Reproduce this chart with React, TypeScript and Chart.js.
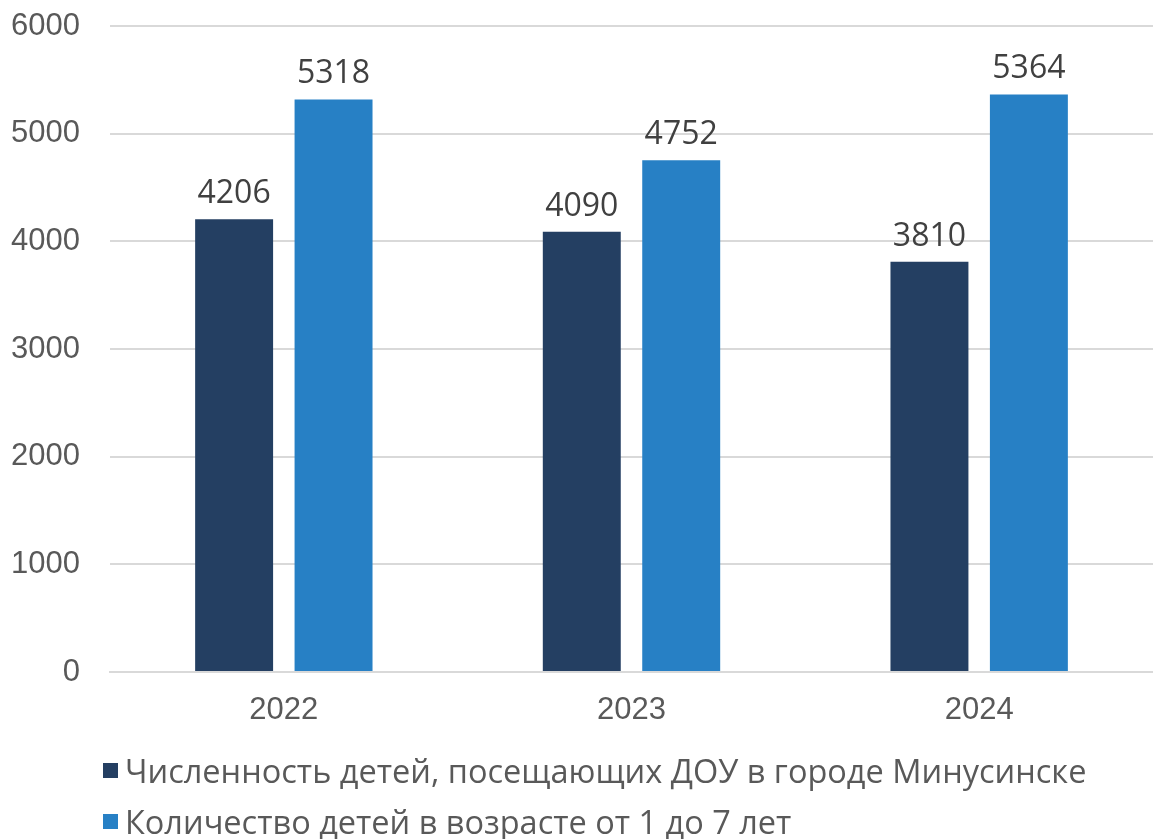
import React, { useEffect, useRef } from "react";
import { Chart, registerables } from "chart.js";

Chart.register(...registerables);

const categories = ["2022", "2023", "2024"];
const seriesNames = [
  "Численность детей, посещающих ДОУ в городе Минусинске",
  "Количество детей в возрасте от 1 до 7 лет",
];
const attending = [4206, 4090, 3810];
const childrenAged1to7 = [5318, 4752, 5364];
const yTicks = [0, 1000, 2000, 3000, 4000, 5000, 6000];
const colors = ["#243F62", "#2780C5"];

const labelFont = "'Open Sans', 'Noto Sans', sans-serif";

const dataLabels = {
  id: "dataLabels",
  afterDatasetsDraw(chart: any) {
    const ctx = chart.ctx;
    ctx.save();
    ctx.font = `32px ${labelFont}`;
    ctx.fillStyle = "#404040";
    ctx.textAlign = "center";
    ctx.textBaseline = "alphabetic";
    chart.data.datasets.forEach((ds: any, i: number) => {
      const meta = chart.getDatasetMeta(i);
      meta.data.forEach((el: any, j: number) => {
        ctx.fillText(String(ds.data[j]), el.x, el.y - 16);
      });
    });
    ctx.restore();
  },
};

export default function App() {
  const ref = useRef<HTMLCanvasElement>(null);
  useEffect(() => {
    document.body.style.margin = "0";
    const chart = new Chart(ref.current!, {
      type: "bar",
      data: {
        labels: categories,
        datasets: [
          { label: seriesNames[0], data: attending, backgroundColor: colors[0] },
          { label: seriesNames[1], data: childrenAged1to7, backgroundColor: colors[1] },
        ],
      },
      options: {
        animation: false,
        responsive: false,
        layout: { padding: { top: 26, right: 0, bottom: 0, left: 0 } },
        datasets: { bar: { categoryPercentage: 0.572, barPercentage: 0.784 } } as any,
        plugins: { legend: { display: false }, tooltip: { enabled: false } },
        scales: {
          x: {
            grid: { display: false, drawTicks: false },
            border: { display: true, color: "#d9d9d9", width: 2 },
            ticks: {
              color: "#595959",
              font: { family: "'Liberation Sans', Arial, sans-serif", size: 31 },
              padding: 20,
            },
            afterFit: (s: any) => {
              s.height = 167;
              s.paddingLeft = 0;
              s.paddingRight = 0;
            },
          },
          y: {
            min: 0,
            max: 6000,
            afterBuildTicks: (s: any) => {
              s.ticks = yTicks.map((v) => ({ value: v }));
            },
            grid: { color: "#d9d9d9", lineWidth: 2, drawTicks: false },
            border: { display: false },
            ticks: {
              color: "#595959",
              font: { family: "'Liberation Sans', Arial, sans-serif", size: 31 },
              padding: 30,
              callback: (v: any) => String(v),
            },
            afterFit: (s: any) => {
              s.width = 110;
              s.paddingTop = 0;
              s.paddingBottom = 0;
            },
          },
        },
      },
      plugins: [dataLabels],
    });
    return () => chart.destroy();
  }, []);

  const legendRow = (i: number, top: number) => (
    <div
      key={i}
      style={{
        position: "absolute",
        left: 103,
        top,
        display: "flex",
        alignItems: "center",
        height: 40,
        whiteSpace: "nowrap",
      }}
    >
      <span style={{ width: 15, height: 15, background: colors[i], display: "inline-block", marginRight: 7 }} />
      <span style={{ fontFamily: labelFont, fontSize: 32.5, color: "#595959" }}>{seriesNames[i]}</span>
    </div>
  );

  return (
    <div style={{ position: "relative", width: 1153, height: 839, overflow: "hidden", background: "#fff" }}>
      <canvas ref={ref} width={1153} height={839} style={{ display: "block" }} />
      {legendRow(0, 750)}
      {legendRow(1, 801)}
    </div>
  );
}
